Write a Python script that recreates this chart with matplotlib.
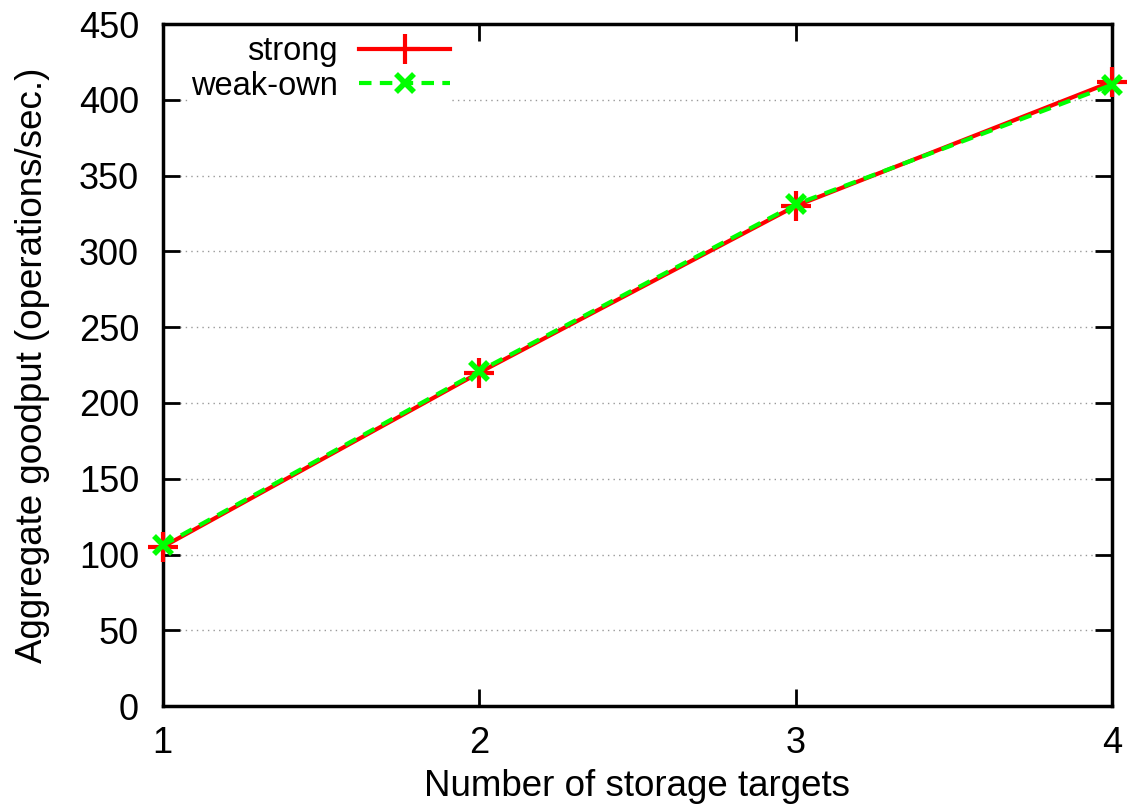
import matplotlib.pyplot as plt

plt.rcParams['font.family'] = ['Liberation Sans', 'DejaVu Sans']

targets = [1, 2, 3, 4]
strong = [105, 220, 330, 412]
weak_own = [106, 221, 331, 410]
y_ticks = [0, 50, 100, 150, 200, 250, 300, 350, 400, 450]

fig = plt.figure(figsize=(11.3, 8.06), dpi=100)
ax = fig.add_axes([0.144, 0.124, 0.84, 0.846])

ax.plot(targets, strong, color='#ff0000', lw=3, marker='+', ms=22, mew=3,
        label='strong', zorder=3, clip_on=False)
ax.plot(targets, weak_own, color='#00ff00', lw=3, ls=(0, (3, 2)), marker='x',
        ms=13, mew=4, label='weak-own', zorder=4, clip_on=False)

ax.set_xlim(1, 4)
ax.set_ylim(0, 450)
ax.set_xticks(targets)
ax.set_yticks(y_ticks)
ax.yaxis.grid(True, linestyle=(0, (1, 3)), color='#999999', lw=1)
ax.set_axisbelow(True)

ax.tick_params(direction='in', length=12, width=2, labelsize=26,
               top=True, right=True)
ax.tick_params(axis='x', pad=14)
ax.tick_params(axis='y', pad=17)
for s in ax.spines.values():
    s.set_linewidth(2.5)

ax.set_xlabel('Number of storage targets', fontsize=26.5, labelpad=6)
ax.set_ylabel('Aggregate goodput (operations/sec.)', fontsize=26.5, labelpad=21)

leg = ax.legend(loc='upper left', markerfirst=False, fontsize=23.5, frameon=True,
                fancybox=False, handlelength=2.8, handletextpad=0.64,
                labelspacing=0.1, borderpad=0.0, borderaxespad=0,
                bbox_to_anchor=(0.03, 0.982))
leg.get_frame().set_edgecolor('none')
leg.get_frame().set_facecolor('white')
leg.get_frame().set_alpha(1)
for t in leg.get_texts():
    t.set_ha('right')
leg.set_zorder(2)

fig.savefig('out.png', dpi=100)
